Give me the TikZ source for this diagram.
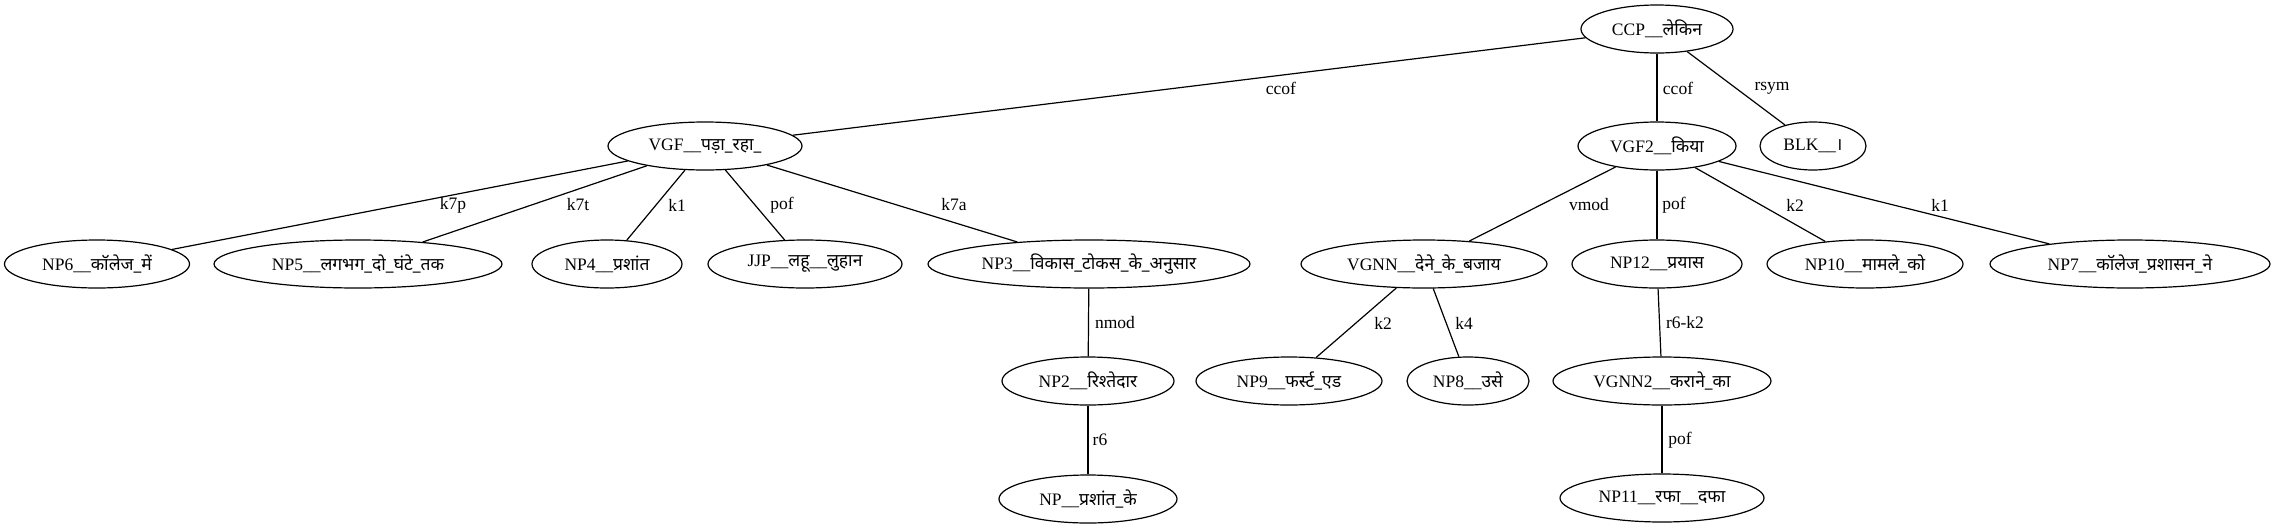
\documentclass[tikz,border=0pt]{standalone}
\usepackage{fontspec}
\setmainfont{Liberation Serif}
\newfontfamily\dv[Script=Devanagari]{Noto Sans}
\usetikzlibrary{shapes.geometric}
\newcommand{\zb}[1]{\makebox[0pt][c]{#1}}
\begin{document}
\begin{tikzpicture}[x=1pt,y=-1pt, font=\fontsize{17.5}{21}\selectfont,
 tnode/.style={draw, ellipse, line width=1.2pt, inner sep=0pt, minimum height=48pt},
 edge/.style={line width=1.2pt},
 elab/.style={inner sep=0pt}]
\useasboundingbox (0,0) rectangle (2273,528);
% row 0
\node[tnode, minimum width=152] (ccp) at (1657,29) {\zb{CCP\_\_{\dv लेकिन}}};
% row 1
\node[tnode, minimum width=194] (vgf) at (705,146) {\zb{VGF\_\_{\dv पड़ा\_रहा\_}}};
\node[tnode, minimum width=158] (vgf2) at (1657,146) {\zb{VGF2\_\_{\dv किया}}};
\node[tnode, minimum width=106] (blk) at (1813,146) {\zb{BLK\_\_{\dv ।}}};
% row 2
\node[tnode, minimum width=185] (np6) at (97,264) {\zb{NP6\_\_{\dv कॉलेज\_में}}};
\node[tnode, minimum width=288] (np5) at (358,264) {\zb{NP5\_\_{\dv लगभग\_दो\_घंटे\_तक}}};
\node[tnode, minimum width=150] (np4) at (607,264) {\zb{NP4\_\_{\dv प्रशांत}}};
\node[tnode, minimum width=194] (jjp) at (805,264) {\zb{JJP\_\_{\dv लहू}\_\_{\dv लुहान}}};
\node[tnode, minimum width=322] (np3) at (1089,264) {\zb{NP3\_\_{\dv विकास\_टोकस\_के\_अनुसार}}};
\node[tnode, minimum width=246] (vgnn) at (1424,264) {\zb{VGNN\_\_{\dv देने\_के\_बजाय}}};
\node[tnode, minimum width=170] (np12) at (1657,264) {\zb{NP12\_\_{\dv प्रयास}}};
\node[tnode, minimum width=196] (np10) at (1865,264) {\zb{NP10\_\_{\dv मामले\_को}}};
\node[tnode, minimum width=280] (np7) at (2130,264) {\zb{NP7\_\_{\dv कॉलेज\_प्रशासन\_ने}}};
% row 3
\node[tnode, minimum width=172] (np2) at (1088,381) {\zb{NP2\_\_{\dv रिश्तेदार}}};
\node[tnode, minimum width=186] (np9) at (1289,381) {\zb{NP9\_\_{\dv फर्स्ट\_एड}}};
\node[tnode, minimum width=122] (np8) at (1468,381) {\zb{NP8\_\_{\dv उसे}}};
\node[tnode, minimum width=218] (vgnn2) at (1662,381) {\zb{VGNN2\_\_{\dv कराने\_का}}};
% row 4
\node[tnode, minimum width=178] (np) at (1088,499) {\zb{NP\_\_{\dv प्रशांत\_के}}};
\node[tnode, minimum width=204] (np11) at (1662,498) {\zb{NP11\_\_{\dv रफा}\_\_{\dv दफा}}};
% edges
\draw[edge] (ccp) -- (vgf);
\draw[edge] (ccp) -- (vgf2);
\draw[edge] (ccp) -- (blk);
\draw[edge] (vgf) -- (np6);
\draw[edge] (vgf) -- (np5);
\draw[edge] (vgf) -- (np4);
\draw[edge] (vgf) -- (jjp);
\draw[edge] (vgf) -- (np3);
\draw[edge] (np3) -- (np2);
\draw[edge] (np2) -- (np);
\draw[edge] (vgf2) -- (vgnn);
\draw[edge] (vgf2) -- (np12);
\draw[edge] (vgf2) -- (np10);
\draw[edge] (vgf2) -- (np7);
\draw[edge] (vgnn) -- (np9);
\draw[edge] (vgnn) -- (np8);
\draw[edge] (np12) -- (vgnn2);
\draw[edge] (vgnn2) -- (np11);
% edge labels
\node[elab] (l1) at (1281,88) {ccof};
\node[elab] (l2) at (1678,88) {ccof};
\node[elab] (l3) at (1772,88) {rsym};
\node[elab] (l4) at (453,205) {k7p};
\node[elab] (l5) at (578,205) {k7t};
\node[elab] (l6) at (677,205) {k1};
\node[elab] (l7) at (782,205) {pof};
\node[elab] (l8) at (954,205) {k7a};
\node[elab] (l9) at (1589,205) {vmod};
\node[elab] (l10) at (1674,205) {pof};
\node[elab] (l11) at (1795,205) {k2};
\node[elab] (l12) at (1940,205) {k1};
\node[elab] (l13) at (1115,323) {nmod};
\node[elab] (l14) at (1383,323) {k2};
\node[elab] (l15) at (1464,323) {k4};
\node[elab] (l16) at (1685,323) {r6-k2};
\node[elab] (l17) at (1100,440) {r6};
\node[elab] (l18) at (1680,440) {pof};
\end{tikzpicture}
\end{document}
